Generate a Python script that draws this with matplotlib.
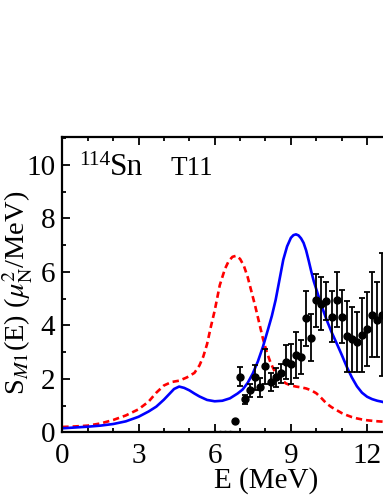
import numpy as np
import matplotlib
matplotlib.use("Agg")
import matplotlib.pyplot as plt
from matplotlib.ticker import MultipleLocator

plt.rcParams['font.family'] = ['Liberation Serif', 'DejaVu Serif']
plt.rcParams['mathtext.fontset'] = 'stix'

# blue solid curve
e_blue = [0.0, 0.5, 1.0, 1.5, 2.0, 2.5, 3.0, 3.4, 3.7, 4.0, 4.2, 4.4, 4.6, 4.8, 5.0, 5.2, 5.4,
          5.7, 6.0, 6.3, 6.6, 6.9, 7.1, 7.3, 7.5, 7.7, 7.9, 8.1, 8.25, 8.4, 8.55, 8.7, 8.85,
          9.0, 9.1, 9.2, 9.3, 9.4, 9.5, 9.6, 9.7, 9.8, 9.9, 10.0, 10.2, 10.4, 10.6, 10.8,
          11.0, 11.2, 11.4, 11.6, 11.8, 12.0, 12.2, 12.4, 12.6, 13.0, 13.5, 14.0, 15.0, 16.0]
s_blue = [0.15, 0.18, 0.21, 0.25, 0.31, 0.41, 0.58, 0.78, 0.96, 1.22, 1.42, 1.62, 1.71, 1.66,
          1.57, 1.45, 1.34, 1.21, 1.16, 1.18, 1.27, 1.45, 1.6, 1.85, 2.2, 2.65, 3.2, 3.85,
          4.35, 4.95, 5.7, 6.45, 6.95, 7.27, 7.37, 7.4, 7.36, 7.25, 7.08, 6.8, 6.42, 6.02,
          5.65, 5.35, 4.75, 4.22, 3.75, 3.33, 2.9, 2.45, 2.05, 1.72, 1.48, 1.33, 1.24, 1.18,
          1.14, 1.0, 0.85, 0.72, 0.55, 0.45]

# red dashed curve
e_red = [0.0, 0.5, 1.0, 1.5, 2.0, 2.5, 3.0, 3.4, 3.7, 4.0, 4.3, 4.6, 4.9, 5.2, 5.4, 5.55,
         5.7, 5.85, 6.0, 6.2, 6.4, 6.55, 6.7, 6.85, 7.0, 7.15, 7.3, 7.45, 7.6, 7.75, 7.9,
         8.05, 8.2, 8.35, 8.5, 8.65, 8.8, 9.0, 9.2, 9.4, 9.6, 9.8, 10.0, 10.2, 10.4, 10.6,
         10.8, 11.0, 11.2, 11.4, 11.6, 11.8, 12.0, 12.3, 12.6, 13.0, 13.5, 14.0, 15.0, 16.0]
s_red = [0.2, 0.22, 0.25, 0.33, 0.46, 0.63, 0.86, 1.15, 1.48, 1.75, 1.88, 1.93, 2.05, 2.22,
         2.5, 2.83, 3.3, 3.95, 4.55, 5.5, 6.1, 6.4, 6.56, 6.6, 6.48, 6.22, 5.8, 5.25, 4.7,
         4.1, 3.5, 3.0, 2.6, 2.3, 2.1, 1.95, 1.83, 1.75, 1.71, 1.68, 1.64, 1.57, 1.46, 1.28,
         1.08, 0.94, 0.83, 0.72, 0.64, 0.57, 0.52, 0.48, 0.45, 0.42, 0.40, 0.37, 0.34, 0.31,
         0.27, 0.24]

# experimental points
e_exp = [7.0, 7.2, 7.4, 7.6, 7.8, 8.0, 8.2, 8.4, 8.6, 8.8, 9.0, 9.2, 9.4, 9.6, 9.8, 10.0,
         10.2, 10.4, 10.6, 10.8, 11.0, 11.2, 11.4, 11.6, 11.8, 12.0, 12.2, 12.4, 12.6]
s_exp = [2.08, 1.23, 1.57, 2.05, 1.68, 2.47, 1.88, 2.05, 2.2, 2.63, 2.55, 2.89, 2.81, 4.26,
         3.54, 4.93, 4.81, 4.9, 4.32, 4.95, 4.32, 3.59, 3.47, 3.39, 3.64, 3.85, 4.4, 4.21, 4.4]
err_exp = [0.35, 0.17, 0.25, 0.45, 0.35, 0.65, 0.35, 0.35, 0.35, 0.65, 0.75, 0.87, 0.64,
           1.03, 0.87, 1.0, 1.0, 0.7, 0.95, 1.03, 1.0, 1.33, 1.23, 1.12, 1.37, 1.38, 1.6,
           1.4, 2.3]

# low-lying points near zero
e_low = [6.0, 6.2, 6.4, 6.6]
s_low = [0.03, 0.03, 0.03, 0.03]
err_low = [0.03, 0.03, 0.03, 0.03]
e_single = [6.8]
s_single = [0.42]

fig = plt.figure(figsize=(3.83, 4.96), dpi=100)
ax = fig.add_axes([0.1627, 0.1284, 1.061, 0.596])

ax.plot(e_red, s_red, color='red', lw=1.9, ls=(0, (2.4, 1.5)))
ax.plot(e_blue, s_blue, color='blue', lw=1.9)
ax.errorbar(e_exp, s_exp, yerr=err_exp, fmt='o', color='black', ms=5, lw=1.3,
            capsize=2.5, capthick=1.3)
ax.errorbar(e_low, s_low, yerr=err_low, fmt='o', color='black', ms=1.5, lw=0.8,
            capsize=1.5, capthick=0.8)
ax.plot(e_single, s_single, 'o', color='black', ms=5)

ax.set_xlim(0, 16)
ax.set_ylim(0, 11.05)
ax.xaxis.set_major_locator(MultipleLocator(3))
ax.xaxis.set_minor_locator(MultipleLocator(1))
ax.yaxis.set_major_locator(MultipleLocator(2))
ax.yaxis.set_minor_locator(MultipleLocator(1))
ax.tick_params(which='both', direction='in', top=True, right=True, width=1.3,
               labelsize=21)
ax.tick_params(axis='x', pad=8)
ax.tick_params(axis='y', pad=5)
ax.tick_params(which='major', length=6)
ax.tick_params(which='minor', length=3)
for sp in ax.spines.values():
    sp.set_linewidth(1.6)

ax.set_xlabel('E (MeV)', fontsize=21)
ax.xaxis.set_label_coords(0.501, -0.118)
ax.set_ylabel(r'S$_{M1}$(E) ($\mu_{\rm N}^2$/MeV)', fontsize=20.5)
ax.yaxis.set_label_coords(-0.066, 0.471)

ax.text(0.68, 9.98, '114', fontsize=15.5)
ax.text(1.88, 9.62, 'Sn', fontsize=22.5)
ax.text(4.24, 9.62, 'T11', fontsize=19.5)

fig.savefig('out.png', dpi=100)
